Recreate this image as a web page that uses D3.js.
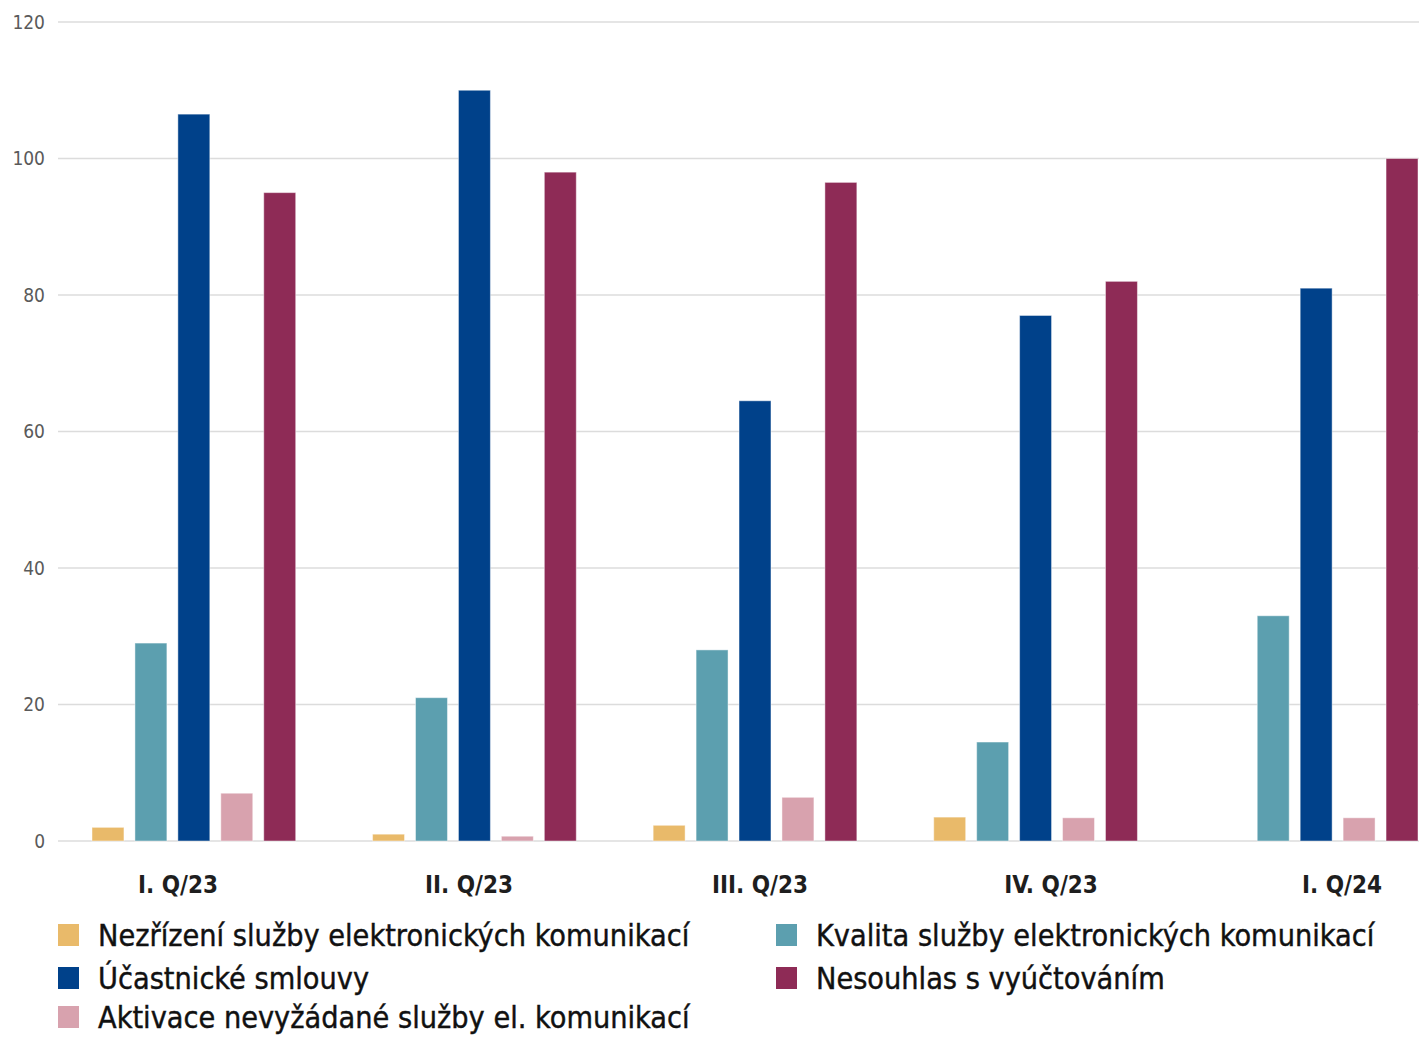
<!DOCTYPE html>
<html>
<head>
<meta charset="utf-8">
<script src="https://cdn.jsdelivr.net/npm/d3@7"></script>
<style>
  html, body { margin: 0; padding: 0; background: #fff; }
  svg { display: block; }
</style>
</head>
<body>
<svg id="chart" width="1419" height="1037"></svg>
<script>
// ---- data ----
const categories = ["I. Q/23", "II. Q/23", "III. Q/23", "IV. Q/23", "I. Q/24"];
const seriesNames = [
  "Nezřízení služby elektronických komunikací",
  "Kvalita služby elektronických komunikací",
  "Účastnické smlouvy",
  "Aktivace nevyžádané služby el. komunikací",
  "Nesouhlas s vyúčtováním"
];
const nezrizeni = [2, 1, 2.3, 3.5, 0];
const kvalita   = [29, 21, 28, 14.5, 33];
const smlouvy   = [106.5, 110, 64.5, 77, 81];
const aktivace  = [7, 0.7, 6.4, 3.4, 3.4];
const nesouhlas = [95, 98, 96.5, 82, 100];
const seriesValues = [nezrizeni, kvalita, smlouvy, aktivace, nesouhlas];
const yTicks = [0, 20, 40, 60, 80, 100, 120];
const colors = ["#E9BA6A", "#5C9FAF", "#00418A", "#D8A2AE", "#8E2B56"];
// legend layout order (row by row, two columns)
const legendOrder = [0, 1, 2, 4, 3];

// ---- chart ----
const svg = d3.select("#chart");
const font = "'Liberation Sans Narrow', 'DejaVu Sans Condensed', 'Roboto', sans-serif";

const y = d3.scaleLinear().domain([0, 120]).range([841, 22]);
const x0 = d3.scaleBand().domain(categories).range([92, 1418]).paddingInner(0.274).paddingOuter(0);
const x1 = d3.scaleBand().domain(d3.range(seriesNames.length)).range([0, x0.bandwidth()]).paddingInner(0.256).paddingOuter(0);
const xLabel = d3.scalePoint().domain(categories).range([178, 1342]);

// gridlines
svg.append("g").selectAll("line").data(yTicks).join("line")
  .attr("x1", 58).attr("x2", 1419)
  .attr("y1", d => y(d)).attr("y2", d => y(d))
  .attr("stroke", "#dcdcdc").attr("stroke-width", 1.6);

// y tick labels
svg.append("g").selectAll("text").data(yTicks).join("text")
  .attr("x", 45).attr("y", d => y(d)).attr("dy", "0.35em")
  .attr("text-anchor", "end")
  .attr("font-family", font).attr("font-size", 19).attr("font-weight", 300)
  .attr("fill", "#5a5a5a")
  .text(d => d);

// bars
const groups = svg.append("g").selectAll("g").data(categories).join("g")
  .attr("transform", d => `translate(${x0(d)},0)`);
groups.selectAll("rect")
  .data((c, ci) => seriesValues.map((vals, si) => ({si, v: vals[ci]})))
  .join("rect")
  .attr("x", d => x1(d.si))
  .attr("width", x1.bandwidth())
  .attr("y", d => y(d.v))
  .attr("height", d => y(0) - y(d.v))
  .attr("fill", d => colors[d.si])
  .attr("stroke", "rgba(255,255,255,0.45)")
  .attr("stroke-width", 1);

// category labels
svg.append("g").selectAll("text").data(categories).join("text")
  .attr("x", d => xLabel(d)).attr("y", 893)
  .attr("text-anchor", "middle")
  .attr("font-family", font).attr("font-size", 24).attr("font-weight", "bold")
  .attr("fill", "#1e1e1e")
  .text(d => d);

// legend
const legendPos = [
  {x: 58, y: 935}, {x: 776, y: 935},
  {x: 58, y: 978}, {x: 776, y: 978},
  {x: 58, y: 1017}
];
const leg = svg.append("g").selectAll("g").data(legendOrder).join("g")
  .attr("transform", (d, i) => `translate(${legendPos[i].x},${legendPos[i].y})`);
leg.append("rect").attr("x", 0).attr("y", -11).attr("width", 21).attr("height", 22)
  .attr("fill", d => colors[d]);
leg.append("text").attr("x", 40).attr("y", 0).attr("dy", "0.36em")
  .attr("font-family", font).attr("font-size", 30.3)
  .attr("fill", "#111").attr("stroke", "#111").attr("stroke-width", 0.4)
  .text(d => seriesNames[d]);
</script>
</body>
</html>
